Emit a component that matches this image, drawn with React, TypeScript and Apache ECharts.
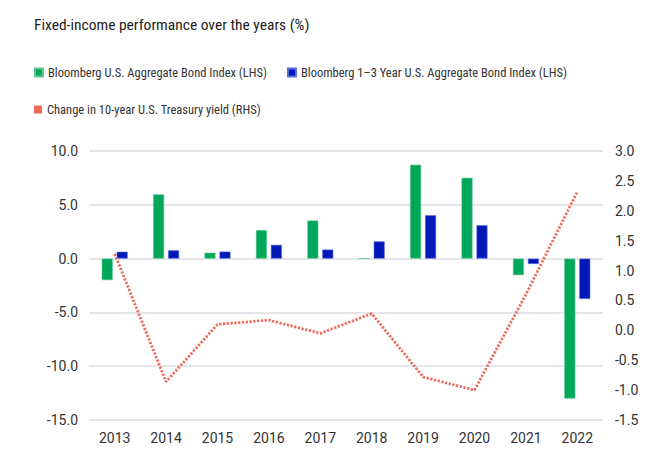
import React, { useEffect, useRef } from "react";
import * as echarts from "echarts";

const years = ["2013", "2014", "2015", "2016", "2017", "2018", "2019", "2020", "2021", "2022"];
const aggregate = [-2.0, 5.97, 0.55, 2.65, 3.54, 0.01, 8.72, 7.51, -1.54, -13.0];
const shortTerm = [0.64, 0.77, 0.65, 1.28, 0.84, 1.6, 4.03, 3.1, -0.5, -3.75];
const yieldChange = [1.28, -0.86, 0.1, 0.17, -0.05, 0.28, -0.78, -1.0, 0.6, 2.32];

const GREEN = "#00a659";
const BLUE = "#0018b8";
const SALMON = "#ef6a5b";
const COND = "'Roboto Condensed', 'Roboto', sans-serif";
const TICK = "'Roboto', 'Noto Sans', sans-serif";

export default function App() {
  const ref = useRef<HTMLDivElement>(null);
  useEffect(() => {
    document.body.style.margin = "0";
    const chart = echarts.init(ref.current!, null, { renderer: "svg" });
    chart.setOption({
      animation: false,
      backgroundColor: "#fff",
      textStyle: { fontFamily: COND },
      title: {
        text: "Fixed-income performance over the years (%)",
        left: 29,
        top: 12,
        textStyle: { fontFamily: COND, fontSize: 15.5, fontWeight: "normal", color: "#1e1e1e" },
      },
      legend: [
        {
          left: 29,
          top: 61,
          icon: "rect",
          itemWidth: 8,
          itemHeight: 8,
          itemGap: 20,
          data: ["Bloomberg U.S. Aggregate Bond Index (LHS)", "Bloomberg 1\u20133 Year U.S. Aggregate Bond Index (LHS)"],
          textStyle: { fontFamily: COND, fontSize: 12.5, color: "#333" },
        },
        {
          left: 29,
          top: 98,
          icon: "rect",
          itemWidth: 8,
          itemHeight: 8,
          data: ["Change in 10-year U.S. Treasury yield (RHS)"],
          textStyle: { fontFamily: COND, fontSize: 12.5, color: "#333" },
        },
      ],
      grid: { left: 89, right: 63, top: 151, bottom: 52 },
      xAxis: {
        type: "category",
        data: years,
        axisLine: { show: false },
        axisTick: { show: false },
        axisLabel: { fontFamily: TICK, fontSize: 14, color: "#333", margin: 11 },
      },
      yAxis: [
        {
          type: "value",
          min: -15,
          max: 10,
          interval: 5,
          axisLine: { show: false },
          axisTick: { show: false },
          axisLabel: {
            fontFamily: TICK,
            fontSize: 14,
            color: "#333",
            margin: 11,
            formatter: (v: number) => v.toFixed(1),
          },
          splitLine: { lineStyle: { color: "#dcdce4", width: 1.5 } },
        },
        {
          type: "value",
          min: -1.5,
          max: 3,
          interval: 0.5,
          axisLine: { show: false },
          axisTick: { show: false },
          axisLabel: {
            fontFamily: TICK,
            fontSize: 14,
            color: "#333",
            margin: 12,
            formatter: (v: number) => v.toFixed(1),
          },
          splitLine: { show: false },
        },
      ],
      series: [
        {
          name: "Bloomberg U.S. Aggregate Bond Index (LHS)",
          type: "bar",
          data: aggregate,
          barWidth: 11,
          barGap: "36%",
          itemStyle: { color: GREEN, borderColor: "#5cc98f", borderWidth: 0.6 },
        },
        {
          name: "Bloomberg 1\u20133 Year U.S. Aggregate Bond Index (LHS)",
          type: "bar",
          data: shortTerm,
          barWidth: 11,
          itemStyle: { color: BLUE, borderColor: "#5a6be0", borderWidth: 0.6 },
        },
        {
          name: "Change in 10-year U.S. Treasury yield (RHS)",
          type: "line",
          yAxisIndex: 1,
          data: yieldChange,
          symbol: "none",
          itemStyle: { color: SALMON },
          lineStyle: { color: SALMON, width: 2.8, type: [2.2, 1.6] },
          z: 5,
        },
      ],
    });
    return () => chart.dispose();
  }, []);
  return <div ref={ref} style={{ width: 666, height: 472 }} />;
}
